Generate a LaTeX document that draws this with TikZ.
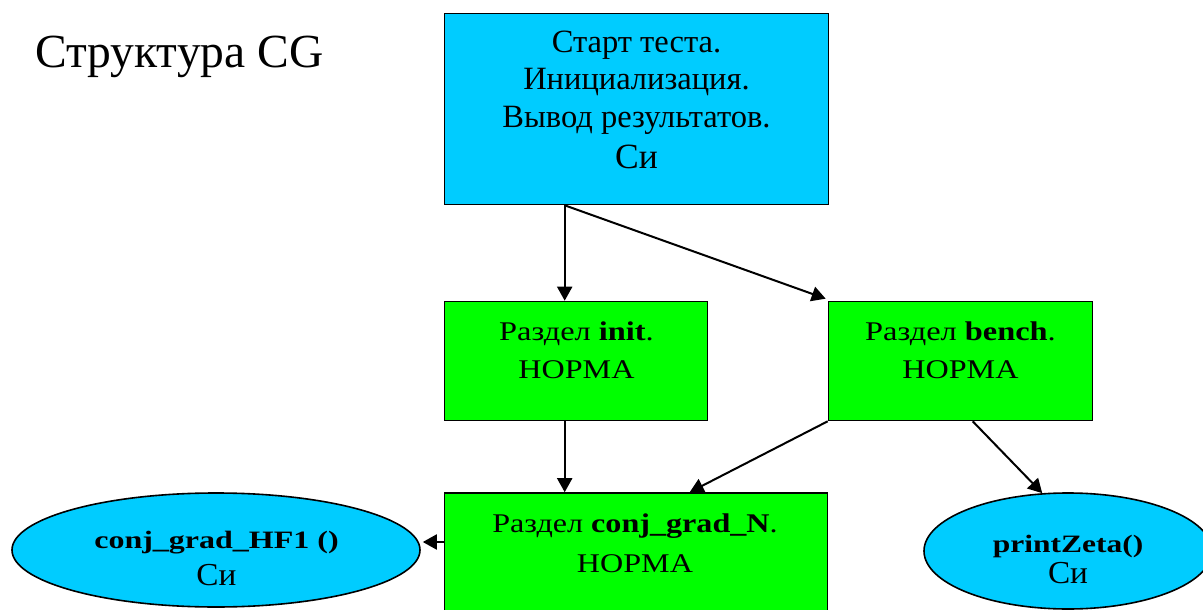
\documentclass[tikz,border=0pt]{standalone}
\usepackage{fontspec}
\usepackage{graphicx}
\setmainfont{Liberation Serif}
\usetikzlibrary{shapes.geometric,arrows.meta}
\definecolor{boxcyan}{RGB}{0,204,255}
\definecolor{boxgreen}{RGB}{0,255,0}
\newcommand{\wx}[2]{\scalebox{#1}[1]{#2}}
\tikzset{
  cbox/.style={draw=black, line width=1.6pt, fill=boxcyan, inner sep=0pt},
  gbox/.style={draw=black, line width=1.6pt, fill=boxgreen, inner sep=0pt},
  oval/.style={ellipse, draw=black, line width=1.6pt, fill=boxcyan, inner sep=0pt},
  txt/.style={anchor=base, inner sep=0pt},
  toptxt/.style={txt, font=\fontsize{32.5}{38}\selectfont},
  grtxt/.style={txt, font=\fontsize{27}{32}\selectfont},
  ovtxt/.style={txt, font=\fontsize{25}{30}\selectfont},
  sitxt/.style={txt, font=\fontsize{32}{38}\selectfont},
  conn/.style={line width=2pt, -{Triangle[length=14pt,width=15pt]}},
}
\begin{document}
\begin{tikzpicture}[x=1pt,y=-1pt]
\useasboundingbox (0,0) rectangle (1203,610);
\clip (0,0) rectangle (1203,610);

% title
\node[anchor=base west, inner sep=0pt, font=\fontsize{47.5}{56}\selectfont] (title) at (35,67) {Структура CG};

% shapes
\node[cbox, minimum width=384pt, minimum height=191pt] (start) at (636.5,109) {};
\node[gbox, minimum width=263pt, minimum height=119pt] (init) at (576,361) {};
\node[gbox, minimum width=264pt, minimum height=119pt] (bench) at (960.5,361) {};
\node[gbox, minimum width=383pt, minimum height=126pt] (conj) at (636,556) {};
\node[oval, minimum width=408pt, minimum height=114pt] (hf) at (216,550) {};
\node[oval, minimum width=288pt, minimum height=116pt] (pz) at (1068,551) {};

% texts
\node[toptxt] (s1) at (636.5,53) {Старт теста.};
\node[toptxt] (s2) at (636.5,90) {Инициализация.};
\node[toptxt] (s3) at (636.5,128) {Вывод результатов.};
\node[txt, font=\fontsize{35.5}{40}\selectfont] (s4) at (636.5,168) {Си};

\node[grtxt] (i1) at (576.5,340) {\wx{1.2}{Раздел \textbf{init}.}};
\node[grtxt] (i2) at (576.5,378) {\wx{1.19}{НОРМА}};
\node[grtxt] (b1) at (960.5,340) {\wx{1.2}{Раздел \textbf{bench}.}};
\node[grtxt] (b2) at (960.5,378) {\wx{1.19}{НОРМА}};
\node[grtxt] (c1) at (635,532) {\wx{1.19}{Раздел \textbf{conj\_grad\_N}.}};
\node[grtxt] (c2) at (635,572) {\wx{1.19}{НОРМА}};

\node[ovtxt] (h1) at (216.5,548) {\wx{1.28}{\textbf{conj\_grad\_HF1 ()}}};
\node[sitxt] (h2) at (216.5,585) {\wx{1.04}{Си}};
\node[ovtxt] (p1) at (1068,552) {\wx{1.26}{\textbf{printZeta()}}};
\node[sitxt] (p2) at (1068,583) {\wx{1.04}{Си}};

% connectors
\coordinate (sfoot) at ([xshift=121pt]start.south west);
\draw[conn] (sfoot) -- ([xshift=121pt]init.north west);
\draw[conn] (sfoot) -- ([xshift=-2pt,yshift=2pt]bench.north west);
\draw[conn] ([xshift=121pt]init.south west) -- ([xshift=121pt]conj.north west);
\draw[conn] (bench.south west) -- ([xshift=246pt]conj.north west);
\draw[conn] ([xshift=145pt]bench.south west) -- (pz.114);
\coordinate (hftip) at ([yshift=8pt,xshift=2pt]hf.east);
\draw[conn] (conj.west |- hftip) -- (hftip);
\end{tikzpicture}
\end{document}
